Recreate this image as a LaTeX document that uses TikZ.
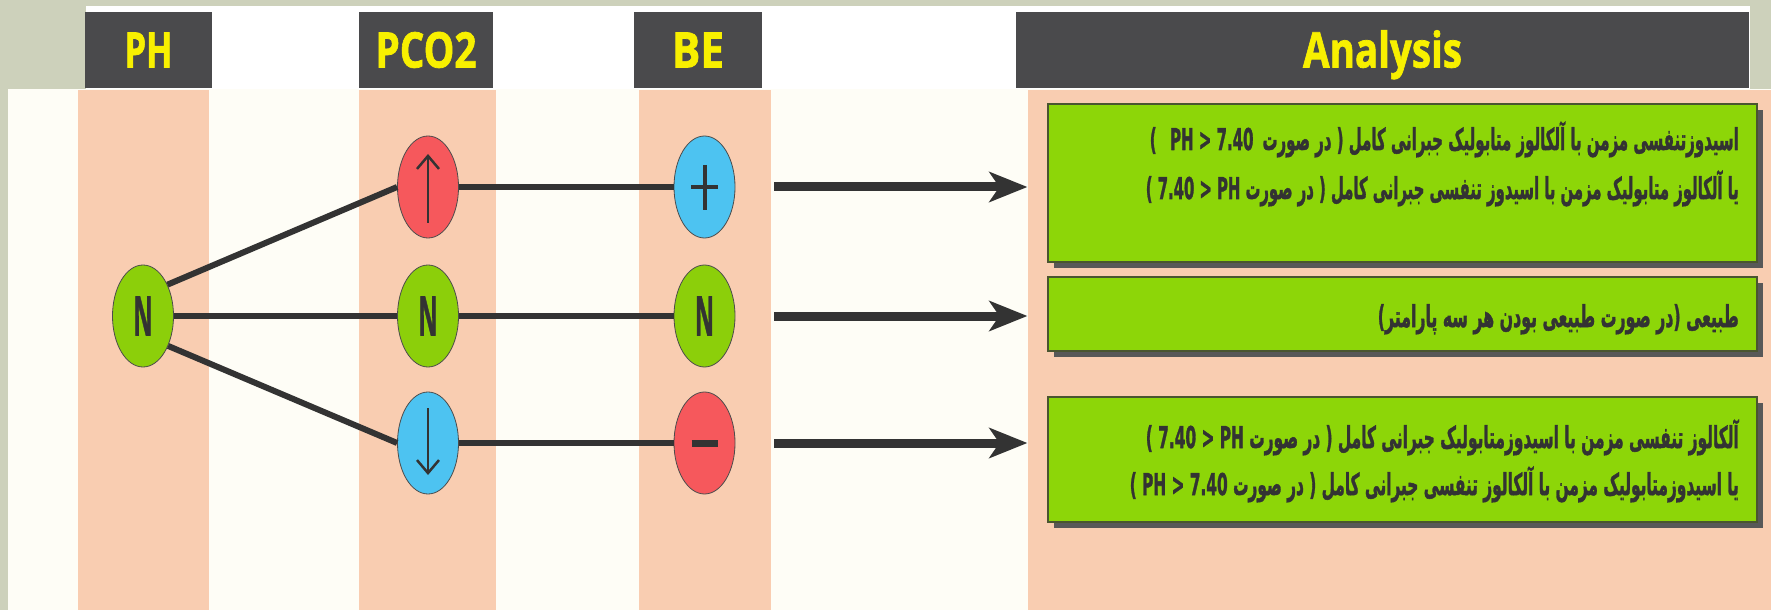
\documentclass[tikz,border=0pt]{standalone}
\usepackage{fontspec}
\usepackage{graphicx}
\usetikzlibrary{shapes.geometric,arrows.meta,shadows,calc}
\TeXXeTstate=1
\newfontfamily\fafont[Script=Arabic,BoldFeatures={FakeBold=1.8}]{DejaVu Sans}
\newfontfamily\headfont[BoldFeatures={FakeBold=1.5}]{Open Sans}

\definecolor{bggray}{HTML}{CDD1BB}
\definecolor{cream}{HTML}{FEFDF6}
\definecolor{peach}{HTML}{F9CDB1}
\definecolor{headgray}{HTML}{4A4A4C}
\definecolor{headyellow}{HTML}{F8F000}
\definecolor{bubgreen}{HTML}{8CCF0A}
\definecolor{boxgreen}{HTML}{8DD608}
\definecolor{bubred}{HTML}{F6585C}
\definecolor{bubblue}{HTML}{4DC3F1}
\definecolor{ink}{HTML}{333333}
\definecolor{shadowgray}{HTML}{585858}
\definecolor{boxedge}{HTML}{4A5530}

% right-to-left Persian run
\newcommand\fa[1]{\beginR #1\endR}
% one line of box text, fitted to a given width with a fixed cap height
\newcommand\fitline[2]{\resizebox{#1}{30bp}{\fafont\bfseries\fontsize{20}{24}\selectfont\smash{#2}\rule{0pt}{1em}}}
% header caption, fitted to a width with a fixed cap height
\newcommand\headtext[2]{\resizebox{#1}{35bp}{\headfont\bfseries\smash{#2}\rule{0pt}{\fontcharht\font`H}}}
% letter N inside a bubble
\newcommand\nlet{\resizebox{19bp}{39bp}{\headfont\bfseries N}}

\begin{document}
\begin{tikzpicture}[x=1bp,y=-1bp,
  bubble/.style={ellipse, draw=black!70, line width=0.8bp, minimum width=61bp,
    minimum height=102bp, inner sep=0pt, text=ink},
  grnbub/.style={bubble, fill=bubgreen},
  redbub/.style={bubble, fill=bubred},
  bluebub/.style={bubble, fill=bubblue},
  link/.style={draw=ink, line width=6bp},
  sym/.style={draw=ink, line width=2.5bp},
  bigarrow/.style={draw=ink, line width=9bp, -{Stealth[length=38bp,width=30bp,inset=10bp]},
    shorten <=39bp, shorten >=20bp},
  header/.style={rectangle, fill=headgray, inner sep=0pt, text=headyellow, minimum height=76bp},
  resbox/.style={rectangle, draw=boxedge, line width=1.2bp, fill=boxgreen,
    drop shadow={shadow xshift=6bp, shadow yshift=-6bp, fill=shadowgray, opacity=1},
    inner sep=0pt, minimum width=709bp},
  txtline/.style={anchor=base east, inner sep=0pt, text=ink},
]
% page and backdrop
\fill[bggray] (0,0) rectangle (1771,610);
\useasboundingbox (0,0) rectangle (1771,610);
\fill[white] (86,6) rectangle (1750,89);
\fill[cream] (8,89) rectangle (1771,610);
% column bands
\fill[peach] (78,90) rectangle (209,610);
\fill[peach] (359,90) rectangle (496,610);
\fill[peach] (639,90) rectangle (771,610);
\fill[peach] (1028,90) rectangle (1771,610);

% column headers
\node[header, minimum width=127bp] (hph) at (148.5,50) {\headtext{48bp}{PH}};
\node[header, minimum width=134bp] (hpco) at (426,50) {\headtext{101bp}{PCO2}};
\node[header, minimum width=128bp] (hbe) at (698,50) {\headtext{52bp}{BE}};
\node[header, minimum width=733bp] (han) at (1382.5,50) {\headtext{159bp}{Analysis}};

% bubbles
\node[grnbub] (ph) at (143,316) {\nlet};
\node[redbub] (pu) at (428,187) {};
\node[grnbub] (pn) at (428,316) {\nlet};
\node[bluebub] (pd) at (428,443) {};
\node[bluebub] (bp) at (704.5,187) {};
\node[grnbub] (bn) at (704.5,316) {\nlet};
\node[redbub] (bm) at (704.5,443) {};

% signs inside bubbles
\draw[sym, -{Straight Barb[length=13bp,width=22bp]}] ($(pu)+(0,36)$) -- ($(pu)+(0,-33)$);
\draw[sym, -{Straight Barb[length=13bp,width=22bp]}] ($(pd)+(0,-35)$) -- ($(pd)+(0,32)$);
\draw[draw=ink, line width=4bp] ($(bp)+(0,-22)$) -- ($(bp)+(0,23)$)
  ($(bp)+(-13.5,0)$) -- ($(bp)+(13.5,0)$);
\draw[draw=ink, line width=7bp] ($(bm)+(-13,0)$) -- ($(bm)+(13,0)$);

% links between bubbles
\draw[link] (ph.52) -- (pu.west);
\draw[link] (ph) -- (pn);
\draw[link] (ph.-50) -- (pd.west);
\draw[link] (pu) -- (bp);
\draw[link] (pn) -- (bn);
\draw[link] (pd) -- (bm);

% result boxes
\node[resbox, minimum height=158bp] (g1) at (1402.5,183) {};
\node[resbox, minimum height=74bp] (g2) at (1402.5,314) {};
\node[resbox, minimum height=125bp] (g3) at (1402.5,459.5) {};

% arrows to the results
\draw[bigarrow] (bp.east) -- (bp.east -| g1.west);
\draw[bigarrow] (bn.east) -- (bn.east -| g2.west);
\draw[bigarrow] (bm.east) -- (bm.east -| g3.west);

% box texts
\node[txtline] (t1a) at (1739,150) {\fitline{589bp}{)\hspace{0.9em}PH < 7.40\hspace{0.6em}\fa{در صورت}\ (\ \fa{اسیدوزتنفسی مزمن با آلکالوز متابولیک جبرانی کامل}}};
\node[txtline] (t1b) at (1739,199) {\fitline{593bp}{)\ 7.40 < PH\ \fa{در صورت}\ (\ \fa{یا آلکالوز متابولیک مزمن با اسیدوز تنفسی جبرانی کامل}}};
\node[txtline] (t2) at (1739,327) {\fitline{361bp}{)\fa{در صورت طبیعی بودن هر سه پارامتر}(\ \fa{طبیعی}}};
\node[txtline] (t3a) at (1739,448) {\fitline{593bp}{)\ 7.40 < PH\ \fa{در صورت}\ (\ \fa{آلکالوز تنفسی مزمن با اسیدوزمتابولیک جبرانی کامل}}};
\node[txtline] (t3b) at (1739,495) {\fitline{609bp}{)\ PH < 7.40\ \fa{در صورت}\ (\ \fa{یا اسیدوزمتابولیک مزمن با آلکالوز تنفسی جبرانی کامل}}};
\end{tikzpicture}
\end{document}
